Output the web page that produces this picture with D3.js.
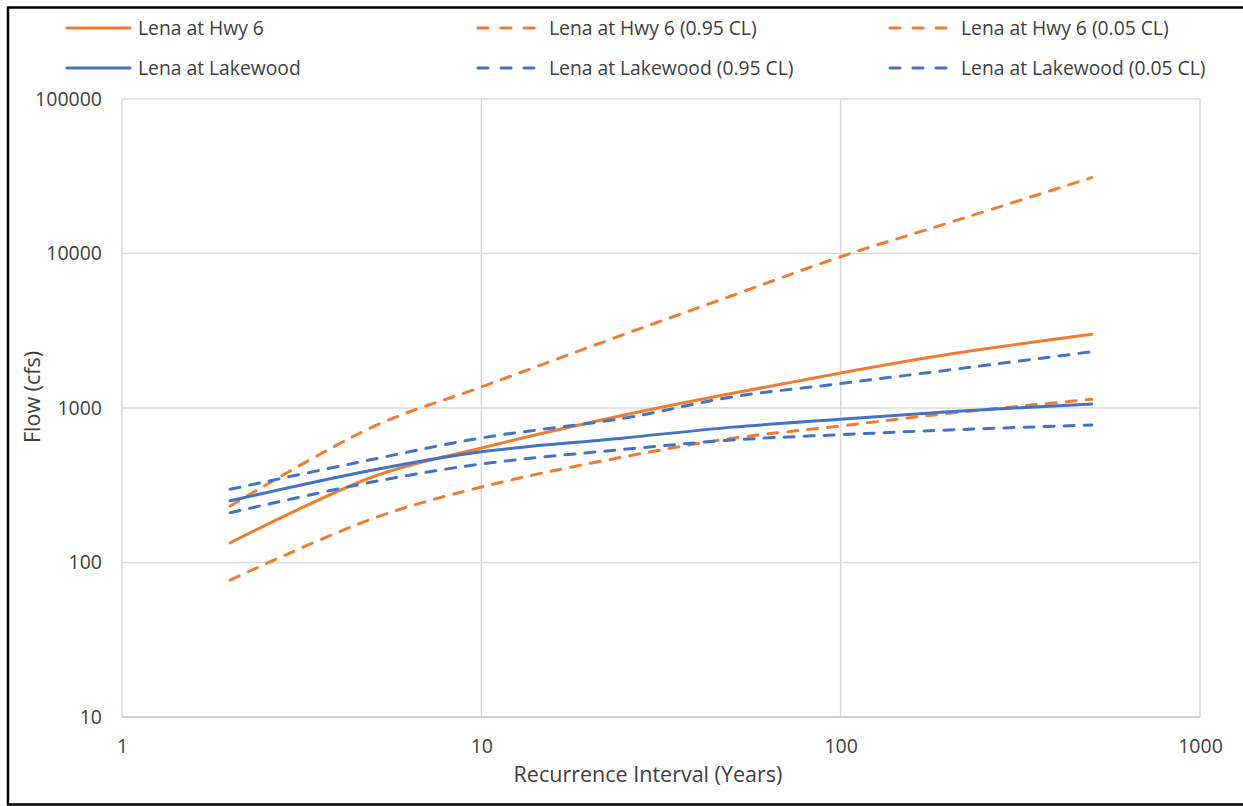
<!DOCTYPE html>
<html>
<head>
<meta charset="utf-8">
<script src="https://cdn.jsdelivr.net/npm/d3@7"></script>
<style>
  html, body { margin: 0; padding: 0; background: #fff; }
  svg { display: block; font-family: "Open Sans", sans-serif; }
</style>
</head>
<body>
<svg id="chart" width="1243" height="806"></svg>
<script>
// ---- data ----
const intervals = [2, 5, 10, 25, 50, 100, 200, 500];
const hwy6      = [134, 359, 551, 900, 1245, 1685, 2227, 3000];
const hwy6_95   = [232, 757, 1368, 3000, 5350, 9530, 15800, 31000];
const hwy6_05   = [77, 193, 308, 484, 637, 765, 924, 1138];
const lake      = [251, 397, 521, 640, 752, 845, 946, 1062];
const lake_95   = [298, 466, 640, 860, 1180, 1440, 1762, 2313];
const lake_05   = [210, 333, 434, 540, 621, 672, 721, 776];

const xTicks = [1, 10, 100, 1000];
const yTicks = [10, 100, 1000, 10000, 100000];

const seriesNames = [
  "Lena at Hwy 6", "Lena at Hwy 6 (0.95 CL)", "Lena at Hwy 6 (0.05 CL)",
  "Lena at Lakewood", "Lena at Lakewood (0.95 CL)", "Lena at Lakewood (0.05 CL)"
];
const seriesValues = [hwy6, hwy6_95, hwy6_05, lake, lake_95, lake_05];

const ORANGE = "#ED7D31", BLUE = "#4472C4";
const seriesColor = [ORANGE, ORANGE, ORANGE, BLUE, BLUE, BLUE];
const seriesDashed = [false, true, true, false, true, true];

// ---- layout ----
const svg = d3.select("#chart");
const L = 122, R = 1200, T = 99, B = 717;
const TXT = "#404040";

svg.append("rect").attr("x", 0).attr("y", 0).attr("width", 1243).attr("height", 806).attr("fill", "#fff");

const x = d3.scaleLog().domain([1, 1000]).range([L, R]);
const y = d3.scaleLog().domain([10, 100000]).range([B, T]);

// gridlines
const g = svg.append("g");
g.selectAll("line.vg").data(xTicks).join("line")
  .attr("x1", d => x(d)).attr("x2", d => x(d))
  .attr("y1", T).attr("y2", B)
  .attr("stroke", "#d9d9d9").attr("stroke-width", 1.5);
g.selectAll("line.hg").data(yTicks.filter(d => d > 10)).join("line")
  .attr("x1", L).attr("x2", R)
  .attr("y1", d => y(d)).attr("y2", d => y(d))
  .attr("stroke", "#d9d9d9").attr("stroke-width", 1.5);
g.append("line").attr("x1", L).attr("x2", R).attr("y1", B).attr("y2", B)
  .attr("stroke", "#bfbfbf").attr("stroke-width", 1.5);

// axes labels via d3 axes
const xAxis = d3.axisBottom(x).tickValues(xTicks).tickFormat(d3.format("d")).tickSize(0).tickPadding(22);
const xa = svg.append("g").attr("transform", `translate(0,${B})`).call(xAxis);
xa.select(".domain").remove();
xa.selectAll("text").attr("font-size", 19.5).attr("fill", TXT).attr("font-family", "Open Sans");

const yAxis = d3.axisLeft(y).tickValues(yTicks).tickFormat(d3.format("d")).tickSize(0).tickPadding(20);
const ya = svg.append("g").attr("transform", `translate(${L},0)`).call(yAxis);
ya.select(".domain").remove();
ya.selectAll("text").attr("font-size", 19.5).attr("fill", TXT).attr("font-family", "Open Sans");

// axis titles
svg.append("text").attr("x", 648).attr("y", 782)
  .attr("text-anchor", "middle").attr("font-size", 21.5).attr("fill", TXT)
  .text("Recurrence Interval (Years)");
svg.append("text").attr("transform", "translate(40,397) rotate(-90)")
  .attr("text-anchor", "middle").attr("font-size", 21.5).attr("fill", TXT)
  .text("Flow (cfs)");

// lines
const line = d3.line()
  .x((d, i) => x(intervals[i]))
  .y(d => y(d))
  .curve(d3.curveCatmullRom.alpha(0.5));

seriesValues.forEach((vals, k) => {
  svg.append("path")
    .attr("d", line(vals))
    .attr("fill", "none")
    .attr("stroke", seriesColor[k])
    .attr("stroke-width", 3)
    .attr("stroke-linecap", "round")
    .attr("stroke-dasharray", seriesDashed[k] ? "10,10" : null);
});

// legend
const legCols = [67, 478, 890];
const legRows = [28, 68];
seriesNames.forEach((name, k) => {
  const col = k % 3, row = Math.floor(k / 3);
  const lx = legCols[col], ly = legRows[row];
  svg.append("line")
    .attr("x1", lx).attr("x2", lx + 63).attr("y1", ly).attr("y2", ly)
    .attr("stroke", seriesColor[k]).attr("stroke-width", 3)
    .attr("stroke-linecap", "round")
    .attr("stroke-dasharray", seriesDashed[k] ? "10,13" : null);
  svg.append("text").attr("x", lx + 71).attr("y", ly + 7)
    .attr("font-size", 19.3).attr("fill", TXT)
    .text(name);
});

// outer frame
svg.append("rect").attr("x", 8).attr("y", 7.5).attr("width", 1250).attr("height", 797)
  .attr("fill", "none").attr("stroke", "#000").attr("stroke-width", 2.5);
</script>
</body>
</html>
